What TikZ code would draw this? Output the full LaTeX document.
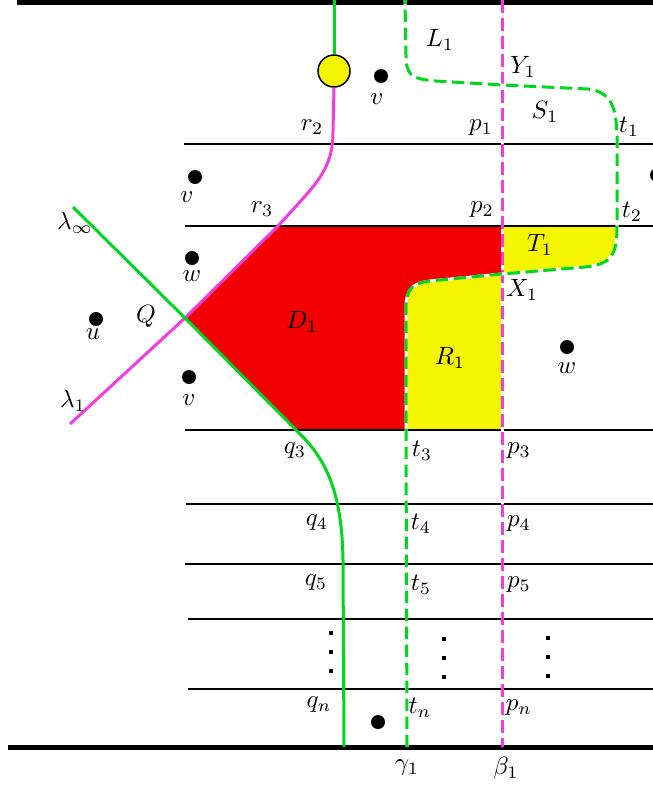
\documentclass[tikz,border=0pt]{standalone}
\usepackage{amsmath, amssymb}
\usetikzlibrary{calc}
\definecolor{grn}{RGB}{0,215,30}
\definecolor{mag}{RGB}{240,60,225}
\definecolor{yel}{RGB}{245,245,0}
\definecolor{rd}{RGB}{242,0,0}

\begin{document}
\begin{tikzpicture}[x=0.4pt, y=-0.4pt,
  level/.style={line width=0.6pt},
  wall/.style={line width=2pt},
  curve/.style={line width=1.2pt},
  dashcurve/.style={line width=1.2pt, dash pattern=on 5pt off 2.2pt,
    preaction={draw=white, solid, line width=1.2pt}},
  pt/.style={circle, fill, inner sep=0pt, minimum size=5.6pt},
  lbl/.style={inner sep=0pt}]
  \useasboundingbox (0,0) rectangle (653,787);
  \clip (0,0) rectangle (653,787);

  % corners of the regions
  \coordinate (Q) at (185,318);
  \coordinate (r3) at (278,226);
  \coordinate (p2) at (502,226);
  \coordinate (X1) at (502,274);
  \coordinate (t3) at (406,430);
  \coordinate (q3) at (297,430);
  \coordinate (p3) at (502,430);
  \coordinate (t2) at (617,226);

  % regions D_1, R_1, T_1
  \fill[rd] (Q) -- (r3) -- (p2) -- (X1) -- (430,281) .. controls (406,284) and (406,295) .. (406,315)
        -- (t3) -- (q3) -- cycle;
  \fill[yel] (X1) -- (430,281) .. controls (406,284) and (406,295) .. (406,315) -- (t3) -- (p3) -- cycle;
  \fill[yel] (p2) -- (t2) .. controls (617,255) and (612,264) .. (585,267) -- (X1) -- cycle;

  % levels
  \draw[level] (184,144) -- (653,144);
  \draw[level] (185,226) -- (653,226);
  \draw[level] (185,430) -- (653,430);
  \draw[level] (186,504) -- (653,504);
  \draw[level] (185,564) -- (653,564);
  \draw[level] (188,619) -- (653,619);
  \draw[level] (188,689) -- (653,689);
  \draw[wall] (17,2) -- (653,2);
  \draw[wall] (8,747) -- (653,747);

  % beta_1 and gamma_1
  \draw[mag, dashcurve] (502,0) -- (502,747);
  \draw[grn, dashcurve] (407,747) -- (t3) -- (406,315) .. controls (406,295) and (406,284) .. (430,281)
        -- (X1) -- (585,267) .. controls (612,264) and (617,255) .. (t2) -- (617,135)
        .. controls (616,108) and (612,92) .. (588,89) -- (502,85) -- (436,81)
        .. controls (410,79) and (406,74) .. (406,55) -- (405,0);

  % lambda_1 and lambda_infty
  \node[circle, draw, fill=yel, line width=0.6pt, inner sep=0pt, minimum size=12.8pt] (pole) at (334,71) {};
  \draw[grn, curve] (334,0) -- (pole.north);
  \draw[mag, curve] (70,424) -- (Q) -- (r3) -- (298,204) .. controls (322,178) and (333,162) .. (333,132)
        -- (pole.south);
  \draw[grn, curve] (73,207) -- (Q) -- (303,437) .. controls (330,465) and (342,500) .. (343,560)
        -- (344,747);

  % points
  \node[pt] (v1) at (381,76) {};
  \node[pt] (v2) at (195,177) {};
  \node[pt] (w1) at (192,258) {};
  \node[pt] (u1) at (96,319) {};
  \node[pt] (v3) at (189,377) {};
  \node[pt] (w2) at (567,347) {};
  \node[pt] (z1) at (378,722) {};
  \node[pt] (v4) at (657,175) {};

  % vertical dots
  \foreach \x/\y in {331/652, 444/658, 548/657}
    \foreach \d in {-19,0,19}
      \fill (\x-2,\y+\d-2) rectangle ++(4,4);

  % labels
  \node[lbl] (lv1) at (377,99) {$v$};
  \node[lbl] (lv2) at (187,197) {$v$};
  \node[lbl] (lw1) at (192,276) {$w$};
  \node[lbl] (lu1) at (93,334) {$u$};
  \node[lbl] (lv3) at (189,400) {$v$};
  \node[lbl] (lw2) at (567,368) {$w$};
  \node[lbl] (lv4) at (659,197) {$v$};
  \node[lbl] (lQ) at (146,316) {$Q$};
  \node[lbl] (lD1) at (302,322) {$D_1$};
  \node[lbl] (lR1) at (450,358) {$R_1$};
  \node[lbl] (lT1) at (540,245) {$T_1$};
  \node[lbl] (lX1) at (522,290) {$X_1$};
  \node[lbl] (lY1) at (523,67) {$Y_1$};
  \node[lbl] (lL1) at (440,40) {$L_1$};
  \node[lbl] (lS1) at (545,112) {$S_1$};
  \node[lbl] (llinf) at (75,223) {$\lambda_\infty$};
  \node[lbl] (llam1) at (73,401) {$\lambda_1$};
  \node[lbl] (lr2) at (312,127) {$r_2$};
  \node[lbl] (lr3) at (262,209) {$r_3$};
  \node[lbl] (lp1) at (481,128) {$p_1$};
  \node[lbl] (lp2) at (482,210) {$p_2$};
  \node[lbl] (lt1) at (629,127) {$t_1$};
  \node[lbl] (lt2) at (632,212) {$t_2$};
  \node[lbl] (lq3) at (295,451) {$q_3$};
  \node[lbl] (lt3) at (422,451) {$t_3$};
  \node[lbl] (lp3) at (519,451) {$p_3$};
  \node[lbl] (lq4) at (317,523) {$q_4$};
  \node[lbl] (lt4) at (421,524) {$t_4$};
  \node[lbl] (lp4) at (519,524) {$p_4$};
  \node[lbl] (lq5) at (316,583) {$q_5$};
  \node[lbl] (lt5) at (421,585) {$t_5$};
  \node[lbl] (lp5) at (519,585) {$p_5$};
  \node[lbl] (lqn) at (319,705) {$q_n$};
  \node[lbl] (ltn) at (420,708) {$t_n$};
  \node[lbl] (lpn) at (519,708) {$p_n$};
  \node[lbl] (lgam) at (407,768) {$\gamma_1$};
  \node[lbl] (lbet) at (506,768) {$\beta_1$};
\end{tikzpicture}
\end{document}
